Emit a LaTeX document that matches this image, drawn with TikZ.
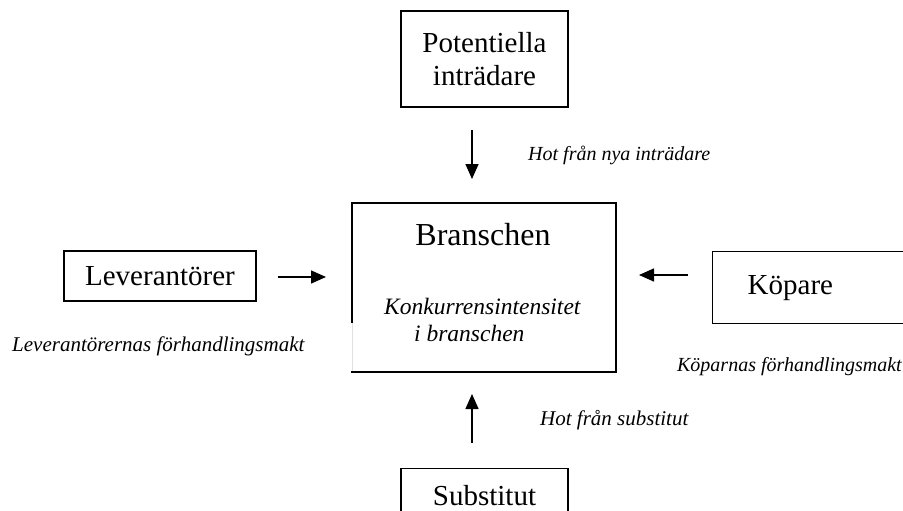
\documentclass[tikz,border=0pt]{standalone}
\usepackage{fontspec}
\setmainfont{Liberation Serif}
\usetikzlibrary{arrows.meta}
\begin{document}
\begin{tikzpicture}[x=1pt,y=-1pt,
  box/.style={draw=black, line width=1.4pt, rectangle, inner sep=0pt, align=center, font=\fontsize{29}{33}\selectfont},
  lbl/.style={inner sep=0pt, font=\fontsize{21}{26}\selectfont\itshape},
  arr/.style={line width=1.5pt, -{Triangle[length=15pt,width=13pt]}}]
\useasboundingbox (0,0) rectangle (903,511);
% boxes
\node[box, minimum width=167pt, minimum height=96pt] (pot) at (484.5,59) {Potentiella\\inträdare};
\node[box, minimum width=264pt, minimum height=169pt] (bra) at (484,287.5) {};
\node[inner sep=0pt, font=\fontsize{32}{36}\selectfont] (brat) at (483,235) {Branschen};
\node[lbl, align=left, anchor=west, font=\fontsize{23.5}{27}\selectfont\itshape] (konk) at (384,320) {Konkurrensintensitet\\\hspace{30pt}i branschen};
\node[box, minimum width=192pt, minimum height=50pt] (lev) at (160,276) {Leverantörer};
\node[box, anchor=north west, text width=140pt, inner xsep=35pt, align=left, minimum height=72pt] (kop) at (712,251) {Köpare};
\node[box, anchor=north, minimum width=167pt, minimum height=54pt] (sub) at (484.5,468) {Substitut};
% gap in left edge of the centre box
\draw[white, line width=2pt] (352,323) -- (352,371);
\draw[black!12, line width=0.8pt] (352.5,323) -- (352.5,371);
% arrow end points
\coordinate (a1s) at (472,130); \coordinate (a1e) at (472,179);
\coordinate (a2s) at (278,277); \coordinate (a2e) at (326,277);
\coordinate (a3s) at (688,275); \coordinate (a3e) at (639,275);
\coordinate (a4s) at (472,443); \coordinate (a4e) at (472,394);
\draw[arr] (a1s) -- (a1e);
\draw[arr] (a2s) -- (a2e);
\draw[arr] (a3s) -- (a3e);
\draw[arr] (a4s) -- (a4e);
% labels
\node[lbl, anchor=west, font=\fontsize{20}{24}\selectfont\itshape] (hny) at (528,155) {Hot från nya inträdare};
\node[lbl, anchor=west] (hlev) at (12,346) {Leverantörernas förhandlingsmakt};
\node[lbl, anchor=east, font=\fontsize{20}{24}\selectfont\itshape] (hkop) at (902,367) {Köparnas förhandlingsmakt};
\node[lbl, anchor=west] (hsub) at (540,420) {Hot från substitut};
\end{tikzpicture}
\end{document}
